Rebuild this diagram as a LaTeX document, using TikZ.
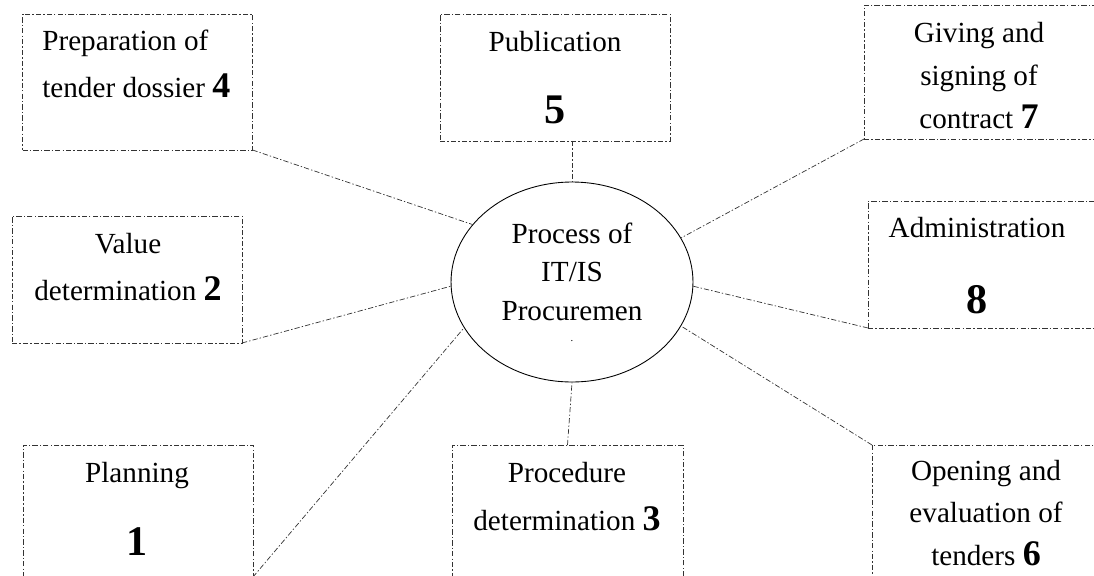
\documentclass[tikz,border=0pt]{standalone}
\usepackage{fontspec}
\setmainfont{Liberation Serif}
\usetikzlibrary{shapes.geometric}

\newcommand{\nr}[1]{{\fontsize{20.5}{20}\selectfont\bfseries #1}}
\newcommand{\bignr}[1]{{\fontsize{24}{24}\selectfont\bfseries #1}}

\begin{document}
\begin{tikzpicture}[x=0.02cm, y=-0.02cm,
    box/.style={draw=black!80, line width=0.4pt, dash pattern=on 3pt off 1.2pt on 0.8pt off 1.2pt,
                inner sep=0pt, outer sep=0pt, minimum width=4.6cm}, % the dash-dot boxes
    link/.style={draw=black!80, line width=0.4pt, dash pattern=on 3pt off 1.2pt on 0.8pt off 1.2pt},
    txt/.style={inner sep=0pt, align=center, anchor=base} % base = last line
    ]
\useasboundingbox (0,0) rectangle (1094,575);
\clip (0,0) rectangle (1094,575);

% centre
\node[draw, ellipse, line width=0.5pt, inner sep=0pt, minimum width=4.84cm, minimum height=4cm,
      align=center, font=\fontsize{16.6}{22}\selectfont] (proc) at (572,282)
      {Process of\\IT/IS\\Procuremen\\[-10pt]{\fontsize{6}{6}\selectfont .}};

% boxes
\node[box, minimum height=2.72cm] (b4) at (137.5,82) {};
\node[box, minimum height=2.54cm] (b5) at (555,77.5) {};
\node[box, minimum height=2.68cm, minimum width=4.7cm] (b7) at (981.5,72) {};
\node[box, minimum height=2.54cm] (b2) at (127,279.5) {};
\node[box, minimum height=2.54cm, minimum width=4.7cm] (b8) at (985.5,264.5) {};
\node[box, minimum height=2.64cm] (b1) at (138,511) {};
\node[box, minimum height=2.8cm, minimum width=4.62cm] (b3) at (567.5,515) {};
\node[box, minimum height=2.8cm, minimum width=4.7cm] (b6) at (989.5,515) {};

% texts
\node[txt, align=left, anchor=base west, font=\fontsize{16.6}{26.6}\selectfont] (t4) at (42,97)
      {Preparation of\\tender dossier \nr{4}};
\node[txt, font=\fontsize{16.6}{40.8}\selectfont] (t5) at (555,123) {Publication\\\bignr{5}};
\node[txt, font=\fontsize{16.6}{24.4}\selectfont] (t7) at (979,128) {Giving and\\signing of\\contract \nr{7}};
\node[txt, font=\fontsize{16.6}{26.6}\selectfont] (t2) at (128,300) {Value\\determination \nr{2}};
\node[txt, font=\fontsize{16.6}{43}\selectfont] (t8) at (977,313) {Administration\\\bignr{8}};
\node[txt, font=\fontsize{16.6}{41.4}\selectfont] (t1) at (137,555) {Planning\\\bignr{1}};
\node[txt, font=\fontsize{16.6}{27.2}\selectfont] (t3) at (567,530) {Procedure\\determination \nr{3}};
\node[txt, font=\fontsize{16.6}{24}\selectfont] (t6) at (986,565) {Opening and\\evaluation of\\tenders \nr{6}};

% connectors
\draw[link] (b4.south east) -- (proc.150);
\draw[link] (proc.north |- b5.south) -- (proc.north);
\draw[link] (b7.south west) -- (proc.22);
\draw[link] (b2.south east) -- (proc.182);
\draw[link] (b8.south west) -- (proc.-2);
\draw[link] (b1.south east) -- (proc.203);
\draw[link] (b3.north) -- (proc.south);
\draw[link] (b6.north west) -- (proc.-22);
\end{tikzpicture}
\end{document}
